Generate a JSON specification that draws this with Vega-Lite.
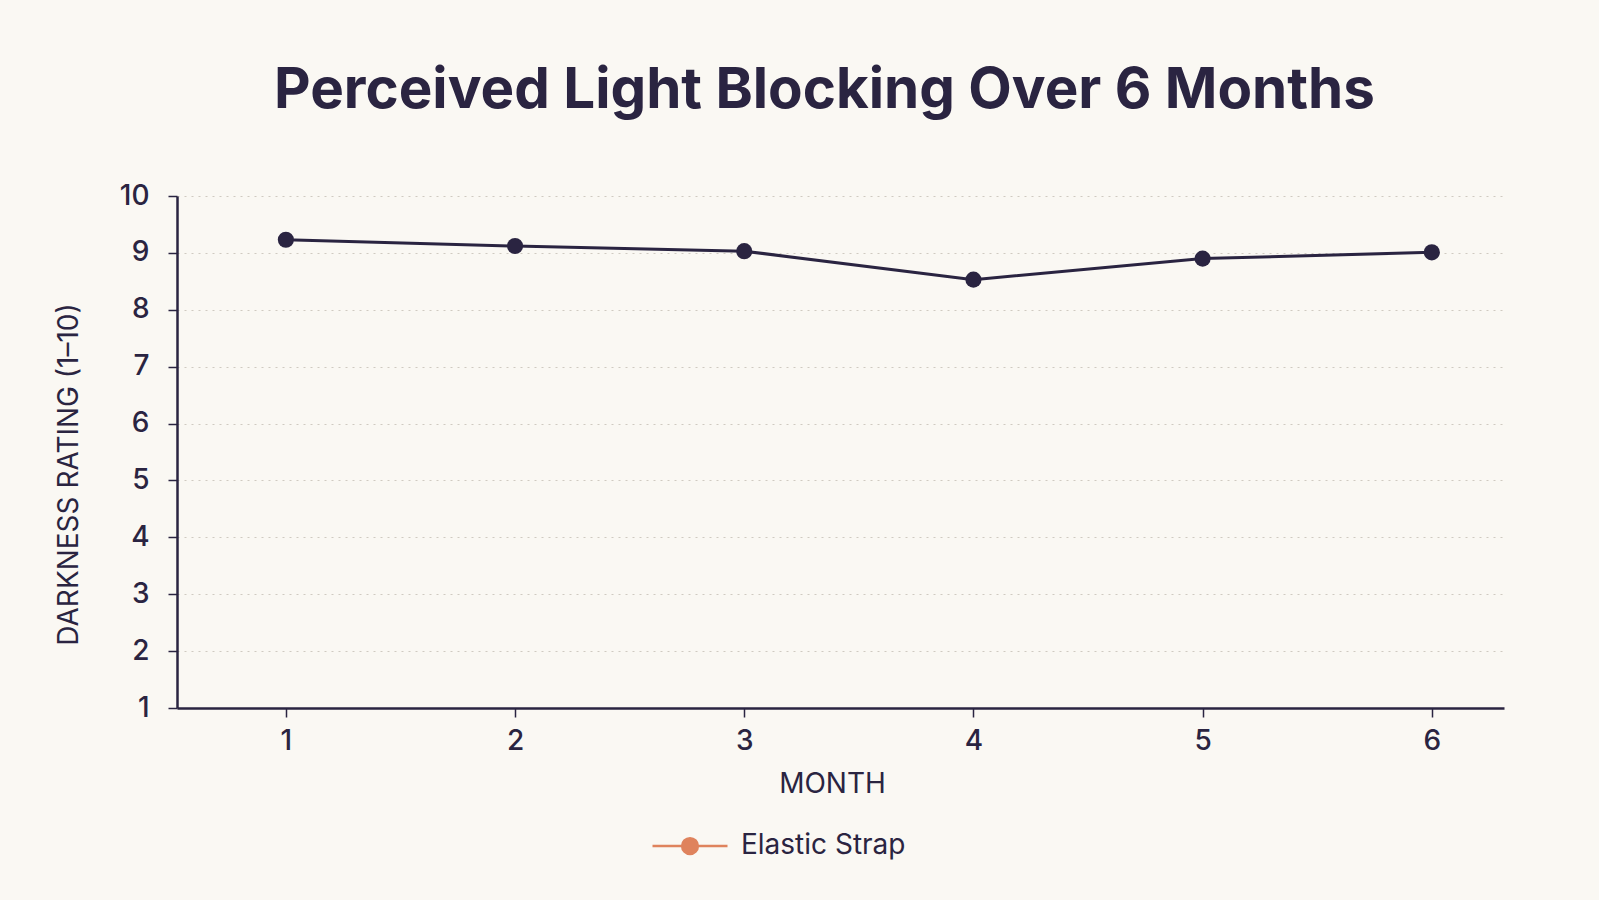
{
  "$schema": "https://vega.github.io/schema/vega-lite/v6.json",
  "autosize": {"type": "none"},
  "width": 1327,
  "height": 512,
  "padding": {"left": 177, "top": 196, "right": 95, "bottom": 192},
  "background": "#faf8f3",
  "title": {
    "text": "Perceived Light Blocking Over 6 Months",
    "frame": "group",
    "anchor": "middle",
    "dx": -16,
    "offset": 18,
    "baseline": "alphabetic",
    "font": "Inter",
    "fontSize": 56.5,
    "fontWeight": 700,
    "color": "#2a2441"
  },
  "data": {
    "values": [
      {"month": 1, "rating": 9.23, "series": "Elastic Strap"},
      {"month": 2, "rating": 9.12, "series": "Elastic Strap"},
      {"month": 3, "rating": 9.03, "series": "Elastic Strap"},
      {"month": 4, "rating": 8.53, "series": "Elastic Strap"},
      {"month": 5, "rating": 8.9, "series": "Elastic Strap"},
      {"month": 6, "rating": 9.01, "series": "Elastic Strap"}
    ]
  },
  "config": {
    "view": {"stroke": null},
    "font": "Inter",
    "axis": {
      "domainColor": "#2a2441",
      "domainWidth": 2.5,
      "tickColor": "#2a2441",
      "tickWidth": 1.5,
      "tickSize": 9,
      "labelColor": "#2a2441",
      "labelFont": "Inter",
      "labelFontSize": 28,
      "labelFontWeight": 500,
      "titleColor": "#2a2441",
      "titleFont": "Inter",
      "titleFontSize": 28,
      "titleFontWeight": 400
    }
  },
  "encoding": {
    "x": {
      "field": "month",
      "type": "quantitative",
      "scale": {"domain": [0.525, 6.315], "nice": false, "zero": false},
      "axis": {
        "title": "MONTH",
        "values": [1, 2, 3, 4, 5, 6],
        "grid": false,
        "labelPadding": 10,
        "titleX": 655,
        "titleY": 76,
        "titleBaseline": "middle",
        "titleAlign": "center"
      }
    },
    "y": {
      "field": "rating",
      "type": "quantitative",
      "scale": {"domain": [1, 10], "nice": false, "zero": false},
      "axis": {
        "title": "DARKNESS RATING (1–10)",
        "values": [1, 2, 3, 4, 5, 6, 7, 8, 9, 10],
        "grid": true,
        "gridColor": "#cfcac1",
        "gridDash": [2, 5],
        "gridWidth": 1.2,
        "labelPadding": 19,
        "titleAngle": -90,
        "titleX": -108,
        "titleY": 278,
        "titleAlign": "center",
        "titleBaseline": "middle"
      }
    }
  },
  "layer": [
    {
      "mark": {"type": "line", "strokeWidth": 0},
      "encoding": {
        "stroke": {
          "field": "series",
          "type": "nominal",
          "scale": {"range": ["#df835d"]},
          "legend": {
            "title": null,
            "orient": "none",
            "legendX": 474,
            "legendY": 611,
            "symbolType": "M-1,0H-0.21M0.21,0H1M-0.21,0A0.21,0.21 0 1,0 0.21,0A0.21,0.21 0 1,0 -0.21,0Z",
            "symbolSize": 5625,
            "symbolStrokeWidth": 2.5,
            "symbolFillColor": "#df835d",
            "labelFont": "Inter",
            "labelFontSize": 28,
            "labelColor": "#2a2441",
            "labelLimit": 400,
            "labelOffset": 12,
            "encode": {
              "symbols": {
                "update": {
                  "fill": {"value": "#df835d"},
                  "strokeWidth": {"value": 2.5},
                  "opacity": {"value": 1}
                }
              }
            }
          }
        }
      }
    },
    {
      "mark": {"type": "line", "color": "#2a2441", "strokeWidth": 3}
    },
    {
      "mark": {"type": "point", "filled": true, "size": 260, "color": "#2a2441", "opacity": 1}
    }
  ]
}
